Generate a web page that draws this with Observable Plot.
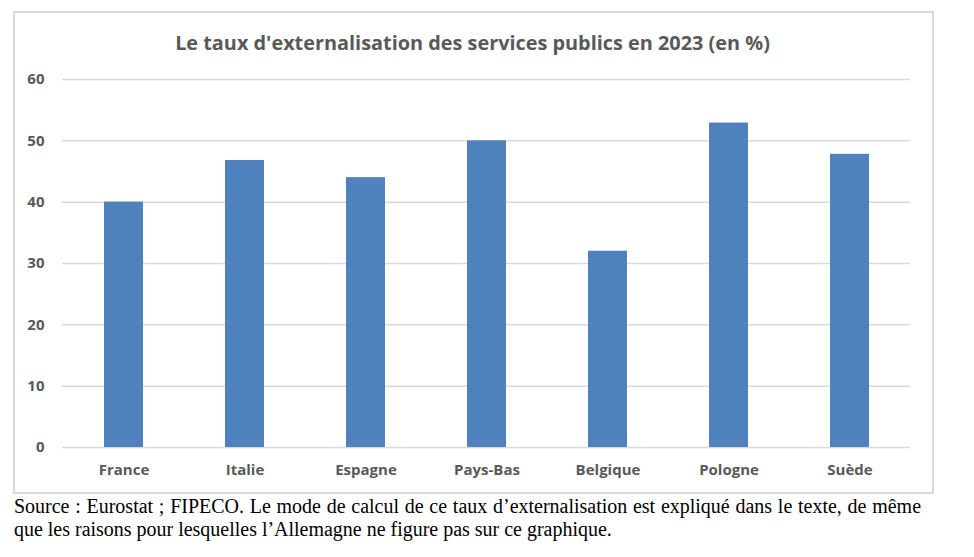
<!DOCTYPE html>
<html>
<head>
<meta charset="utf-8">
<script src="https://cdn.jsdelivr.net/npm/d3@7"></script>
<script src="https://cdn.jsdelivr.net/npm/@observablehq/plot@0.6"></script>
<style>
  html, body { margin: 0; padding: 0; background: #fff; width: 974px; height: 557px; overflow: hidden; position: relative; }
  #frame { position: absolute; left: 13px; top: 11px; width: 921px; height: 483px; box-sizing: border-box; border: 2px solid #d9d9d9; }
  #chart { position: absolute; left: 0; top: 0; }
  #title { position: absolute; left: 0; width: 945px; top: 31px; text-align: center; font-family: "Open Sans", sans-serif; font-weight: 700; font-size: 18px; color: #595959; white-space: nowrap; line-height: 24px; }
  #title span { display: inline-block; }
  #caption { position: absolute; left: 14px; top: 495px; width: 907px; font-family: "Liberation Serif", "Times New Roman", serif; font-size: 18px; line-height: 23px; color: #000; }
  #caption .l1 { text-align: justify; text-align-last: justify; white-space: nowrap; }
  #caption .l2 { white-space: nowrap; }
  #caption .l2 span { display: inline-block; }
</style>
</head>
<body>
<div id="frame"></div>
<div id="chart"></div>
<div id="title"><span id="titleText">Le taux d'externalisation des services publics en 2023 (en %)</span></div>
<div id="caption">
  <div class="l1">Source : Eurostat ; FIPECO. Le mode de calcul de ce taux d’externalisation est expliqué dans le texte, de même</div>
  <div class="l2"><span id="line2">que les raisons pour lesquelles l’Allemagne ne figure pas sur ce graphique.</span></div>
</div>
<script>
const countries = ["France", "Italie", "Espagne", "Pays-Bas", "Belgique", "Pologne", "Suède"];
const rates = [40, 46.8, 44, 50, 32, 52.9, 47.8];
const yTicks = [0, 10, 20, 30, 40, 50, 60];

const data = countries.map((c, i) => ({country: c, rate: rates[i]}));

const chart = Plot.plot({
  width: 974,
  height: 500,
  marginTop: 79,
  marginBottom: 53,
  marginLeft: 62,
  marginRight: 64,
  style: {fontFamily: "'Open Sans', sans-serif", fontSize: "15px", fontWeight: 700, color: "#595959", background: "transparent"},
  x: {domain: countries, paddingInner: 0.68, paddingOuter: 0.34, label: null},
  y: {domain: [0, 60], label: null},
  marks: [
    Plot.ruleY(yTicks, {stroke: "#d9d9d9", strokeWidth: 1.5}),
    Plot.barY(data, {x: "country", y: "rate", fill: "#4f81bd"}),
    Plot.axisY({ticks: yTicks, tickSize: 0, tickPadding: 18, label: null, fill: "#595959", fontSize: 15}),
    Plot.axisX({tickSize: 0, tickPadding: 17, label: null, fill: "#595959", fontSize: 15})
  ]
});
document.getElementById("chart").appendChild(chart);

// fit title to the reference width
const t = document.getElementById("titleText");
const w = t.getBoundingClientRect().width;
if (w > 0) {
  document.getElementById("title").style.fontSize = (18 * 595 / w).toFixed(2) + "px";
}
// fit caption font so the second line's width matches the reference
const l2 = document.getElementById("line2");
const w2 = l2.getBoundingClientRect().width;
if (w2 > 0) {
  const fs = Math.min(20, 18 * 598 / w2);
  document.getElementById("caption").style.fontSize = fs.toFixed(2) + "px";
}
</script>
</body>
</html>
